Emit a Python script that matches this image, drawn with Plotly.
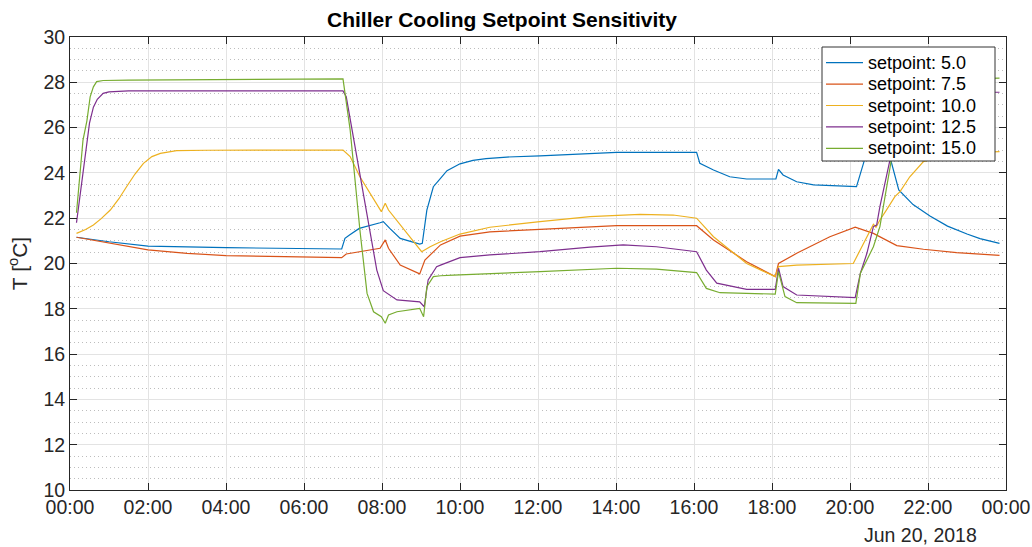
import plotly.graph_objects as go

DAY = "2018-06-20"

# setpoint 5.0
t_sp05 = ["00:10", "01:00", "02:00", "04:00", "06:58", "07:03", "07:10", "07:25", "07:57", "08:02",
          "08:12", "08:28", "08:58", "09:02", "09:09", "09:19", "09:30", "09:40", "10:00", "10:20",
          "10:40", "11:12", "12:03", "12:54", "14:01", "16:04", "16:09", "16:30", "16:55", "17:21",
          "18:06", "18:10", "18:17", "18:38", "19:04", "20:10", "20:16", "20:23", "20:40", "21:02",
          "21:15", "21:37", "22:03", "22:30", "23:00", "23:20", "23:50"]
T_sp05 = [21.16, 20.96, 20.77, 20.7, 20.64, 21.11, 21.26, 21.55, 21.8, 21.85,
          21.55, 21.11, 20.86, 20.89, 22.36, 23.39, 23.76, 24.1, 24.4, 24.55,
          24.63, 24.7, 24.75, 24.82, 24.91, 24.91, 24.42, 24.13, 23.83, 23.73,
          23.73, 24.16, 23.91, 23.61, 23.47, 23.39, 23.98, 24.64, 25.3, 24.64,
          23.25, 22.6, 22.1, 21.65, 21.3, 21.1, 20.89]

# setpoint 7.5
t_sp075 = ["00:10", "01:00", "02:00", "03:00", "04:00", "05:30", "06:58", "07:05", "07:57", "08:05",
           "08:10", "08:28", "08:58", "09:06", "09:30", "10:00", "10:46", "12:03", "13:20", "14:01",
           "16:04", "16:30", "17:21", "18:05", "18:10", "18:38", "19:29", "20:08", "20:36", "21:06",
           "21:12", "21:53", "22:44", "23:50"]
T_sp075 = [21.16, 20.89, 20.6, 20.45, 20.35, 20.3, 20.26, 20.42, 20.67, 21.04,
           20.67, 19.93, 19.54, 20.15, 20.82, 21.21, 21.4, 21.51, 21.62, 21.67,
           21.67, 21.04, 20.08, 19.42, 20.0, 20.45, 21.18, 21.6, 21.33, 20.89,
           20.79, 20.63, 20.48, 20.36]

# setpoint 10.0
t_sp10 = ["00:10", "00:24", "00:36", "00:48", "01:02", "01:15", "01:27", "01:40", "01:53", "02:06",
          "02:19", "02:44", "03:30", "07:00", "07:11", "07:26", "07:59", "08:05", "08:10", "08:33",
          "09:01", "09:14", "09:30", "10:00", "10:46", "12:03", "13:20", "14:37", "15:28", "16:04",
          "16:30", "17:21", "18:05", "18:10", "18:38", "20:05", "20:20", "20:36", "20:40", "20:46",
          "20:56", "21:09", "21:17", "21:32", "21:53", "22:30", "23:10", "23:50"]
T_sp10 = [21.33, 21.5, 21.7, 21.98, 22.36, 22.85, 23.39, 23.95, 24.42, 24.72,
          24.86, 24.98, 25.0, 25.01, 24.72, 23.83, 22.29, 22.66, 22.36, 21.55,
          20.52, 20.74, 20.96, 21.3, 21.6, 21.85, 22.07, 22.17, 22.14, 22.0,
          21.18, 20.0, 19.42, 19.86, 19.93, 20.0, 20.82, 21.73, 21.6, 21.92,
          22.36, 22.95, 23.17, 23.83, 24.5, 24.8, 24.9, 24.94]

# setpoint 12.5
t_sp125 = ["00:10", "00:18", "00:26", "00:30", "00:36", "00:42", "00:51", "01:00", "01:30", "07:00",
           "07:05", "07:16", "07:37", "07:52", "08:02", "08:12", "08:23", "08:58", "09:05", "09:11",
           "09:24", "09:30", "10:00", "10:46", "12:03", "13:20", "14:11", "15:02", "16:04", "16:19",
           "16:35", "17:21", "18:05", "18:10", "18:17", "18:38", "20:08", "20:16", "20:26", "20:36",
           "20:41", "20:46", "21:02", "21:15", "21:30", "22:00", "23:50"]
T_sp125 = [21.8, 23.5, 25.16, 26.2, 26.9, 27.25, 27.51, 27.58, 27.62, 27.62,
           27.36, 25.6, 22.07, 19.71, 18.8, 18.6, 18.39, 18.31, 18.09, 19.27,
           19.86, 19.93, 20.26, 20.38, 20.52, 20.72, 20.82, 20.74, 20.52, 19.71,
           19.13, 18.86, 18.86, 19.79, 18.98, 18.61, 18.49, 19.57, 20.45, 21.63,
           21.7, 22.51, 24.64, 26.8, 27.45, 27.55, 27.56]

# setpoint 15.0
t_sp15 = ["00:10", "00:20", "00:26", "00:31", "00:36", "00:41", "00:51", "01:30", "07:00", "07:11",
          "07:26", "07:37", "07:47", "07:59", "08:05", "08:10", "08:23", "08:58", "09:04", "09:09",
          "09:19", "09:30", "09:50", "10:46", "12:03", "14:01", "15:02", "16:04", "16:19", "16:40",
          "18:05", "18:10", "18:20", "18:38", "20:09", "20:16", "20:26", "20:36", "20:46", "20:56",
          "21:04", "21:20", "21:40", "23:50"]
T_sp15 = [22.24, 25.45, 26.3, 27.36, 27.8, 28.03, 28.08, 28.1, 28.15, 25.9,
          21.48, 18.68, 17.87, 17.65, 17.36, 17.73, 17.87, 18.02, 17.65, 18.98,
          19.42, 19.46, 19.49, 19.54, 19.64, 19.79, 19.75, 19.6, 18.9, 18.71,
          18.65, 19.64, 18.54, 18.27, 18.24, 19.57, 20.15, 20.74, 21.63, 23.25,
          24.64, 27.5, 28.1, 28.18]

names = ["setpoint: 5.0", "setpoint: 7.5", "setpoint: 10.0", "setpoint: 12.5", "setpoint: 15.0"]
times = [t_sp05, t_sp075, t_sp10, t_sp125, t_sp15]
temps = [T_sp05, T_sp075, T_sp10, T_sp125, T_sp15]
colors = ["#0072BD", "#D95319", "#EDB120", "#7E2F8E", "#77AC30"]

FONT = "Liberation Sans, Arial, Helvetica, sans-serif"
W, H = 1032, 547
L, R, T, B = 70, 26, 37, 57
PW, PH = W - L - R, H - T - B


def px(xp):
    return (xp - L) / PW


def py(yp):
    return (H - B - yp) / PH


fig = go.Figure()
for n, t, v, c in zip(names, times, temps, colors):
    fig.add_trace(go.Scatter(
        x=[f"{DAY} {s}" for s in t], y=v, mode="lines", name=n,
        line=dict(color=c, width=1.2), showlegend=False))

axis_common = dict(
    showline=True, linecolor="#262626", linewidth=1, mirror="allticks",
    ticks="inside", ticklen=7, tickcolor="#262626", tickwidth=1,
    showgrid=True, gridcolor="#e3e3e3", gridwidth=1, zeroline=False,
    tickfont=dict(family=FONT, size=19.5, color="#262626"), automargin=False,
)

fig.update_xaxes(
    **axis_common, type="date",
    range=["2018-06-20 00:00", "2018-06-21 00:00"],
    dtick=2 * 3600 * 1000, tick0="2018-06-20 00:00", tickformat="%H:%M",
)
fig.update_yaxes(
    **axis_common, range=[10, 30], dtick=2,
    minor=dict(dtick=0.5, showgrid=True, griddash="1px,3px", gridcolor="#bdbdbd", ticklen=0),
    title=dict(text="T [<sup>o</sup>C]", font=dict(family=FONT, size=21, color="#262626"), standoff=10),
)

# legend (drawn as box + samples + labels, MATLAB style)
leg_x0, leg_x1, leg_y0, leg_y1 = 822, 995, 47, 161
row0, rowstep = 62.7, 21.4
shapes = [dict(type="rect", xref="paper", yref="paper", x0=px(leg_x0), x1=px(leg_x1),
               y0=py(leg_y1), y1=py(leg_y0), fillcolor="white",
               line=dict(color="#333333", width=1), layer="above")]
annotations = []
for i, (n, c) in enumerate(zip(names, colors)):
    yy = py(row0 + i * rowstep)
    shapes.append(dict(type="line", xref="paper", yref="paper", x0=px(826), x1=px(863),
                       y0=yy, y1=yy, line=dict(color=c, width=1.2), layer="above"))
    annotations.append(dict(text=n, xref="paper", yref="paper", x=px(866), y=yy,
                            xanchor="left", yanchor="middle", showarrow=False,
                            font=dict(family=FONT, size=18, color="black")))

annotations.append(dict(text="Jun 20, 2018", xref="paper", yref="paper", x=px(920.5), y=py(535),
                        xanchor="center", yanchor="middle", showarrow=False,
                        font=dict(family=FONT, size=19.5, color="#262626")))

fig.update_layout(
    width=W, height=H,
    margin=dict(l=L, r=R, t=T, b=B),
    paper_bgcolor="white", plot_bgcolor="white",
    font=dict(family=FONT, color="#262626"),
    title=dict(text="<b>Chiller Cooling Setpoint Sensitivity</b>", x=502 / W, xanchor="center",
               y=1 - 20 / H, yanchor="middle", font=dict(family=FONT, size=21, color="black")),
    showlegend=False,
    shapes=shapes,
    annotations=annotations,
)

fig.write_html("out.html")
